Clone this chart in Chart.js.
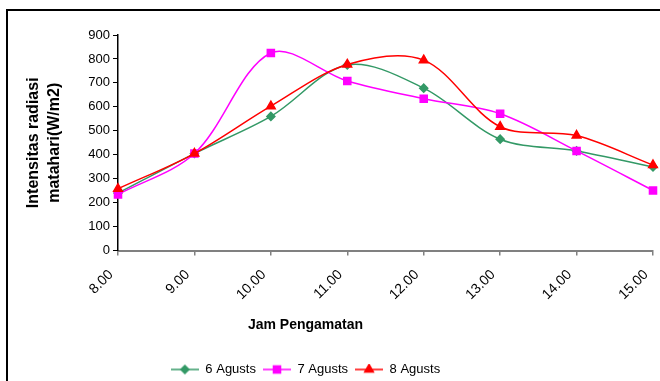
<!DOCTYPE html>
<html>
<head>
<meta charset="utf-8">
<title>Intensitas radiasi matahari</title>
<script src="https://cdn.jsdelivr.net/npm/chart.js@4/dist/chart.umd.min.js"></script>
<style>
  body { margin: 0; width: 660px; height: 381px; overflow: hidden; background: #fff; position: relative; }
  #bingkai { position: absolute; left: 6px; top: 9px; width: 720px; height: 420px; border: 2px solid #000; }
  #wadah { position: absolute; left: 0; top: 0; width: 660px; height: 386px; }
</style>
</head>
<body>
<div id="bingkai"></div>
<div id="wadah"><canvas id="grafik"></canvas></div>
<script>
// jam pengamatan dan intensitas radiasi (W/m2) tiap hari
const jam = ["8.00", "9.00", "10.00", "11.00", "12.00", "13.00", "14.00", "15.00"];
const agustus6 = [240, 405, 560, 775, 678, 465, 416, 349];
const agustus7 = [234, 405, 825, 708, 634, 571, 416, 251];
const agustus8 = [258, 405, 603, 777, 795, 517, 480, 357];
const judulY = ["Intensitas radiasi", "matahari(W/m2)"];
const judulX = "Jam Pengamatan";

Chart.defaults.font.family = "'Liberation Sans', Arial, sans-serif";
Chart.defaults.color = "#000";

// ikon legenda: garis pendek dengan penanda di tengah
const buatIkon = (warna, bentuk, radius) => {
  const c = document.createElement("canvas");
  c.width = 28;
  c.height = 12;
  const g = c.getContext("2d");
  g.strokeStyle = warna;
  g.lineWidth = 1.5;
  g.beginPath();
  g.moveTo(0, 6);
  g.lineTo(28, 6);
  g.stroke();
  g.fillStyle = warna;
  Chart.helpers.drawPoint(g, { pointStyle: bentuk, radius, borderWidth: 1 }, 14, 6);
  return c;
};

const seri = (label, data, warna, bentuk, radius, urutan) => ({
  label,
  data,
  borderColor: warna,
  backgroundColor: warna,
  pointBackgroundColor: warna,
  pointBorderColor: warna,
  pointStyle: bentuk,
  pointRadius: radius,
  borderWidth: 1.5,
  tension: 0.33,
  fill: false,
  order: urutan,
  ikon: buatIkon(warna, bentuk, radius),
});

// judul sumbu x dan legenda digeser ke kiri seperti aslinya
const geserBawah = {
  id: "geserBawah",
  afterLayout(chart) {
    const dx = -24;
    [chart.legend, chart.titleBlock].forEach((kotak) => {
      kotak.left += dx;
      kotak.right += dx;
    });
  },
};

const grafik = new Chart(document.querySelector("#grafik"), {
  type: "line",
  data: {
    labels: jam,
    datasets: [
      seri("6 Agusts", agustus6, "#339966", "rectRot", 4, 2),
      seri("7 Agusts", agustus7, "#ff00ff", "rect", 5, 1),
      seri("8 Agusts", agustus8, "#ff0000", "triangle", 5, 0),
    ],
  },
  options: {
    responsive: true,
    maintainAspectRatio: false,
    animation: false,
    layout: { padding: { left: 6, right: 7, top: 35, bottom: 0 } },
    scales: {
      x: {
        offset: false,
        grid: { drawOnChartArea: false, tickLength: 5, color: "#808080", lineWidth: 1.5 },
        border: { color: "#808080", width: 2 },
        ticks: { autoSkip: false, maxRotation: 45, minRotation: 45, padding: 11, labelOffset: -7, font: { size: 14 } },
        afterFit: (skala) => {
          skala.paddingRight = 0;
        },
      },
      y: {
        min: 0,
        max: 900,
        grid: { drawOnChartArea: false, tickLength: 5, color: "#000" },
        border: { color: "#000", width: 1.5 },
        ticks: { stepSize: 100, padding: 3, font: { size: 13 } },
        title: {
          display: true,
          text: judulY,
          font: { size: 16, weight: "bold", lineHeight: 1.3 },
          padding: { top: 17, bottom: 0 },
        },
        afterFit: (skala) => {
          skala.width = 112;
        },
      },
    },
    plugins: {
      title: {
        display: true,
        text: judulX,
        position: "bottom",
        weight: 500,
        font: { size: 14, weight: "bold" },
        padding: { top: 3, bottom: 22 },
      },
      legend: {
        position: "bottom",
        labels: {
          usePointStyle: true,
          pointStyleWidth: 28,
          padding: 7,
          font: { size: 13 },
          color: "#000",
          sort: (a, b) => a.datasetIndex - b.datasetIndex,
          generateLabels: (chart) =>
            Chart.defaults.plugins.legend.labels.generateLabels(chart).map((item) => {
              item.pointStyle = chart.data.datasets[item.datasetIndex].ikon;
              return item;
            }),
        },
      },
      tooltip: { enabled: false },
    },
  },
  plugins: [geserBawah],
});
</script>
</body>
</html>
